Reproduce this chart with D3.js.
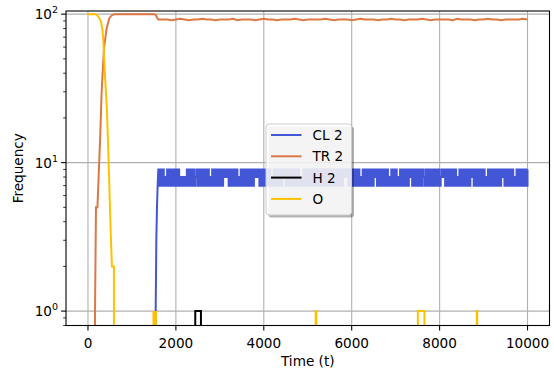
<!DOCTYPE html>
<html>
<head>
<meta charset="utf-8">
<script src="https://cdn.jsdelivr.net/npm/d3@7"></script>
<style>
  body { margin: 0; background: #fff; }
  text { font-family: "DejaVu Sans", sans-serif; fill: #000; }
</style>
</head>
<body>
<svg id="chart" width="554" height="370"></svg>
<script>
// Series names, colours, ticks
const seriesNames = ["CL 2", "TR 2", "H 2", "O"];
const seriesColors = ["#4356d6", "#dd7845", "#000000", "#ffc000"];
const xTicks = [0, 2000, 4000, 6000, 8000, 10000];
const yTicks = [1, 10, 100];
const yTickExp = ["0", "1", "2"];

// CL 2: rise, then counts sampled every 25 t from t=1600
const clRiseT = [0, 1530, 1540, 1555, 1570, 1585];
const clRiseV = [0, 0, 1, 3, 5, 7];
const clStart = 1600, clStep = 25;
const clCounts = (
  "9797978797" + "9797979797" + "8787879797" + "9797897979" + "7979797879" +
  "7979797979" + "8989797979" + "7978797979" + "7979797989" + "8979797979" +
  "7978797979" + "7979897979" + "7979797987" + "8797979797" + "9797978979" +
  "7979797979" + "8797979798" + "9897979797" + "9797879797" + "9797979897" +
  "9797979797" + "8797979787" + "9797979798" + "9797979797" + "9879797979" +
  "7979797898" + "9797979797" + "9787979797" + "9797989797" + "9797979787" +
  "9797979797" + "9798979797" + "9797879797" + "9797979"
).split("").map(Number);

// TR 2: rise, then counts sampled every 100 t from t=1700
const trRiseT = [0, 150, 160, 175, 182, 215, 265, 275, 311, 364, 424, 485, 540, 600, 1510, 1540, 1570, 1600];
const trRiseV = [0, 0, 1, 3, 5, 5, 12, 14, 30, 59, 80, 94, 98, 100, 100, 99, 95, 92];
const trStart = 1700, trStep = 100;
const trCounts = [
  92, 92, 91, 92, 93, 92, 91, 92, 92, 93,
  92, 92, 91, 92, 92, 92, 93, 91, 92, 92,
  92, 91, 92, 93, 92, 92, 91, 92, 92, 92,
  93, 92, 91, 92, 92, 92, 92, 93, 92, 91,
  92, 92, 92, 91, 92, 93, 92, 92, 92, 91,
  92, 92, 93, 92, 92, 91, 92, 92, 92, 93,
  92, 91, 92, 92, 92, 92, 91, 93, 92, 92,
  92, 91, 92, 92, 93, 92, 92, 91, 92, 92,
  92, 92, 93, 92
];

// H 2
const hT = [0, 2440, 2441, 2570, 2571, 10000];
const hV = [0, 0, 1, 1, 0, 0];

// O
const oT = [0, 150, 200, 250, 300, 330, 350, 386, 430, 455, 480, 500, 523, 545, 590, 600,
  1480, 1490, 1500, 1515, 1530, 1545, 1560,
  5175, 5180, 5195, 5200,
  7500, 7505, 7655, 7660,
  8840, 8845, 8855, 8860,
  10000];
const oV = [100, 100, 99, 95, 88, 78, 66, 39, 23, 14, 8, 5, 3, 2, 2, 0,
  0, 1, 0, 1, 0, 1, 0,
  0, 1, 1, 0,
  0, 1, 1, 0,
  0, 1, 1, 0,
  0];

function zip(ts, vs) { return ts.map((t, i) => ({ t: t, v: vs[i] })); }

const clRise = zip(clRiseT, clRiseV);
const clSteps = clCounts.map((v, i) => ({ t: clStart + i * clStep, v: v }));
const trData = zip(trRiseT, trRiseV).concat(trCounts.map((v, i) => ({ t: trStart + i * trStep, v: v })));
const hData = zip(hT, hV);
const oData = zip(oT, oV);

const margin = { left: 66, right: 4.5, top: 11, bottom: 44.5 };
const width = 554, height = 370;
const plotW = width - margin.left - margin.right;
const plotH = height - margin.top - margin.bottom;

const svg = d3.select("#chart");

const x = d3.scaleLinear().domain([-500, 10500]).range([0, plotW]);
const y = d3.scaleLog().domain([0.8, 105]).range([plotH, 0]);

const g = svg.append("g").attr("transform", `translate(${margin.left},${margin.top})`);

svg.append("defs").append("clipPath").attr("id", "plotclip")
  .append("rect").attr("width", plotW).attr("height", plotH);

// Grid
g.append("g").selectAll("line").data(xTicks).join("line")
  .attr("x1", d => x(d)).attr("x2", d => x(d))
  .attr("y1", 0).attr("y2", plotH)
  .attr("stroke", "#b0b0b0").attr("stroke-width", 1.1);
g.append("g").selectAll("line").data(yTicks).join("line")
  .attr("x1", 0).attr("x2", plotW)
  .attr("y1", d => y(d)).attr("y2", d => y(d))
  .attr("stroke", "#b0b0b0").attr("stroke-width", 1.1);

// Lines (CL 2 switches fast, its plateau is drawn as steps)
const line = d3.line()
  .x(d => x(d.t))
  .y(d => y(Math.max(d.v, 1e-6)));
const stepLine = d3.line()
  .curve(d3.curveStepAfter)
  .x(d => x(d.t))
  .y(d => y(Math.max(d.v, 1e-6)));

const lines = g.append("g").attr("clip-path", "url(#plotclip)");
const clPath = line(clRise) + "L" + stepLine(clSteps).slice(1);
const paths = [clPath, line(trData), line(hData), line(oData)];
lines.selectAll("path").data(paths).join("path")
  .attr("d", d => d)
  .attr("fill", "none")
  .attr("stroke", (d, i) => seriesColors[i])
  .attr("stroke-width", 2)
  .attr("stroke-linejoin", "miter");

// Spines
g.append("rect").attr("width", plotW).attr("height", plotH)
  .attr("fill", "none").attr("stroke", "#000").attr("stroke-width", 1.1);

// X axis
const xAxis = g.append("g").attr("transform", `translate(0,${plotH})`);
xAxis.selectAll("line").data(xTicks).join("line")
  .attr("x1", d => x(d)).attr("x2", d => x(d))
  .attr("y1", 0).attr("y2", 4.9)
  .attr("stroke", "#000").attr("stroke-width", 1.1);
xAxis.selectAll("text").data(xTicks).join("text")
  .attr("x", d => x(d)).attr("y", 22)
  .attr("text-anchor", "middle")
  .style("font-size", "13.6px")
  .text(d => d);

// Y axis: major and minor ticks
const minorTicks = [0.8, 0.9, 2, 3, 4, 5, 6, 7, 8, 9, 20, 30, 40, 50, 60, 70, 80, 90];
g.append("g").selectAll("line").data(minorTicks).join("line")
  .attr("x1", -2.8).attr("x2", 0)
  .attr("y1", d => y(d)).attr("y2", d => y(d))
  .attr("stroke", "#000").attr("stroke-width", 0.8);
g.append("g").selectAll("line").data(yTicks).join("line")
  .attr("x1", -4.9).attr("x2", 0)
  .attr("y1", d => y(d)).attr("y2", d => y(d))
  .attr("stroke", "#000").attr("stroke-width", 1.1);

const yLabels = g.append("g").selectAll("text").data(yTicks).join("text")
  .attr("x", -8).attr("y", d => y(d) + 5)
  .attr("text-anchor", "end")
  .style("font-size", "13.6px");
yLabels.append("tspan").text("10");
yLabels.append("tspan").attr("dy", -6).style("font-size", "9.5px").text((d, i) => yTickExp[i]);

// Axis titles
svg.append("text")
  .attr("x", margin.left + plotW / 2).attr("y", 366)
  .attr("text-anchor", "middle")
  .style("font-size", "13.6px")
  .text("Time (t)");
svg.append("text")
  .attr("transform", `translate(23,${margin.top + plotH / 2}) rotate(-90)`)
  .attr("text-anchor", "middle")
  .style("font-size", "13.6px")
  .text("Frequency");

// Legend
const legend = svg.append("g").attr("transform", "translate(266,124)");
legend.append("rect")
  .attr("x", 2.5).attr("y", 2.5).attr("width", 85.5).attr("height", 91).attr("rx", 3)
  .attr("fill", "#000").attr("opacity", 0.3);
legend.append("rect")
  .attr("width", 85.5).attr("height", 91).attr("rx", 3)
  .attr("fill", "#fff").attr("fill-opacity", 0.85)
  .attr("stroke", "#cccccc").attr("stroke-width", 1);
const rows = legend.selectAll("g.row").data(seriesNames).join("g")
  .attr("class", "row")
  .attr("transform", (d, i) => `translate(0,${11 + i * 21.3})`);
rows.append("line")
  .attr("x1", 5).attr("x2", 35.5)
  .attr("stroke", (d, i) => seriesColors[i])
  .attr("stroke-width", 2);
rows.append("text")
  .attr("x", 46.5).attr("y", 5)
  .style("font-size", "13.6px")
  .text(d => d);
</script>
</body>
</html>
